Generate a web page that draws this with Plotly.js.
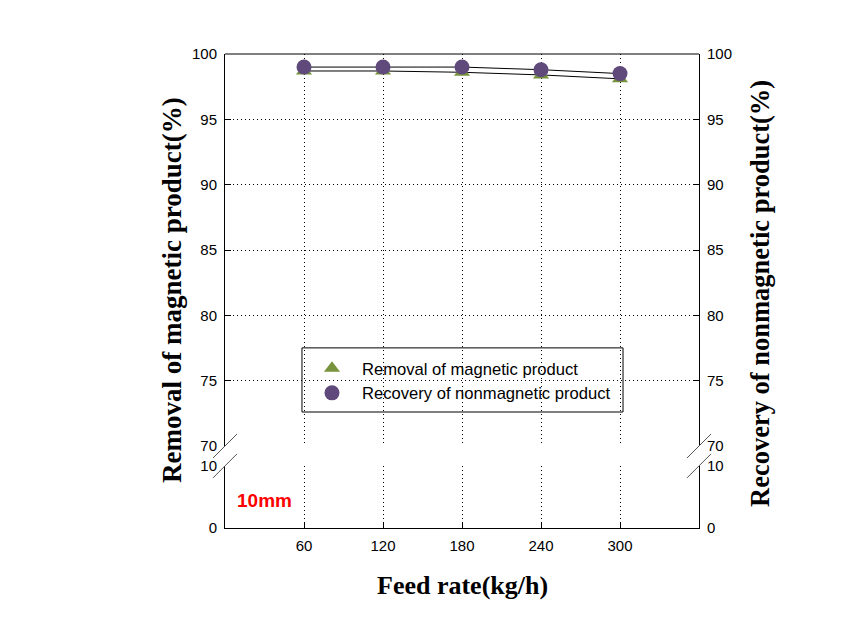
<!DOCTYPE html>
<html>
<head>
<meta charset="utf-8">
<script src="https://cdn.plot.ly/plotly-3.0.1.min.js"></script>
<style>html,body{margin:0;padding:0;background:#fff;}#chart{width:862px;height:637px;}</style>
</head>
<body>
<div id="chart"></div>
<script>
var feedRate = [60, 120, 180, 240, 300];
var removalMagnetic = [98.7, 98.7, 98.6, 98.4, 98.1];
var recoveryNonmagnetic = [99.0, 99.0, 99.0, 98.8, 98.5];
var upperTicks = [70, 75, 80, 85, 90, 95, 100];
var lowerTicks = [0, 10];
var xTicks = [60, 120, 180, 240, 300];
var seriesNames = ['Removal of magnetic product', 'Recovery of nonmagnetic product'];

var sans = 'Liberation Sans, Arial, sans-serif';
var serif = 'Liberation Serif, Times New Roman, serif';
var gridDash = '1px,3px';

var traces = [
  {x: feedRate, y: removalMagnetic, type: 'scatter', mode: 'lines', showlegend: false, hoverinfo: 'skip',
   xaxis: 'x', yaxis: 'y', line: {color: '#000000', width: 1}},
  {x: feedRate, y: recoveryNonmagnetic, type: 'scatter', mode: 'lines', showlegend: false, hoverinfo: 'skip',
   xaxis: 'x', yaxis: 'y', line: {color: '#000000', width: 1}},
  {x: feedRate, y: removalMagnetic, name: seriesNames[0], type: 'scatter', mode: 'markers',
   xaxis: 'x', yaxis: 'y', marker: {symbol: 'triangle-up', size: 14, color: '#77933C'}},
  {x: feedRate, y: recoveryNonmagnetic, name: seriesNames[1], type: 'scatter', mode: 'markers',
   xaxis: 'x', yaxis: 'y', marker: {symbol: 'circle', size: 15, color: '#604A7B'}},
  {x: [null], y: [null], xaxis: 'x', yaxis: 'y2', showlegend: false, hoverinfo: 'skip', mode: 'markers'},
  {x: [null], y: [null], xaxis: 'x', yaxis: 'y3', showlegend: false, hoverinfo: 'skip', mode: 'markers'},
  {x: [null], y: [null], xaxis: 'x', yaxis: 'y4', showlegend: false, hoverinfo: 'skip', mode: 'markers'}
];

var upperDom = [0.173, 1];
var lowerDom = [0, 0.131];

function yAxis(extra) {
  var base = {
    ticks: 'inside', ticklen: 6, tickcolor: '#000', tickwidth: 1,
    showline: true, linecolor: '#000', linewidth: 1,
    zeroline: false, tickmode: 'array',
    tickfont: {family: sans, size: 15, color: '#000'},
    ticklabelstandoff: 4, fixedrange: true
  };
  for (var k in extra) base[k] = extra[k];
  return base;
}

var dx = 12 / 474, dy = 12 / 474;
var yBreakA = upperDom[0], yBreakB = lowerDom[1];
function slash(xc, yc) {
  return {type: 'line', xref: 'paper', yref: 'paper', x0: xc - dx, y0: yc - dy, x1: xc + dx, y1: yc + dy,
          line: {color: '#555555', width: 1}};
}

var layout = {
  width: 862, height: 637,
  margin: {l: 225, r: 163, t: 54, b: 109},
  paper_bgcolor: '#ffffff', plot_bgcolor: 'rgba(0,0,0,0)',
  showlegend: true,
  legend: {x: 0.1624, y: 0.3735, xanchor: 'left', yanchor: 'top', bgcolor: 'rgba(0,0,0,0)', borderwidth: 0,
           itemwidth: 50, font: {family: sans, size: 16.6, color: '#000'}, traceorder: 'normal'},
  xaxis: {domain: [0, 1], anchor: 'y2', range: [0, 360], tickmode: 'array', tickvals: xTicks,
          ticks: 'inside', ticklen: 6, tickcolor: '#000', showline: true, linecolor: '#000', linewidth: 1,
          showgrid: true, gridcolor: '#000', gridwidth: 1, griddash: gridDash, zeroline: false,
          tickfont: {family: sans, size: 15, color: '#000'}, ticklabelstandoff: 4, fixedrange: true},
  yaxis: yAxis({domain: upperDom, anchor: 'x', range: [70, 100], tickvals: upperTicks,
                showgrid: true, gridcolor: '#000', gridwidth: 1, griddash: gridDash}),
  yaxis2: yAxis({domain: lowerDom, anchor: 'x', range: [0, 10], tickvals: lowerTicks,
                 showgrid: true, gridcolor: '#000', gridwidth: 1, griddash: gridDash}),
  yaxis3: yAxis({overlaying: 'y', side: 'right', anchor: 'x', range: [70, 100], tickvals: upperTicks, showgrid: false}),
  yaxis4: yAxis({overlaying: 'y2', side: 'right', anchor: 'x', range: [0, 10], tickvals: lowerTicks, showgrid: false}),
  shapes: [
    {type: 'line', xref: 'paper', yref: 'paper', x0: 0, x1: 1, y0: 1, y1: 1, line: {color: '#000', width: 1}},
    {type: 'rect', xref: 'paper', yref: 'paper', x0: 0.1624, x1: 0.8397, y0: 0.2447, y1: 0.38,
     line: {color: '#000', width: 1}, fillcolor: 'rgba(0,0,0,0)'},
    slash(0, yBreakA), slash(0, yBreakB), slash(1, yBreakA), slash(1, yBreakB)
  ],
  annotations: [
    {text: '<b>10mm</b>', xref: 'paper', yref: 'paper', x: 0.0823, y: 0.057, xanchor: 'center', yanchor: 'middle',
     showarrow: false, font: {family: sans, size: 19, color: '#FF0000'}},
    {text: '<b>Removal of magnetic product(%)</b>', xref: 'paper', yref: 'paper', x: -0.1118, y: 0.502,
     xanchor: 'center', yanchor: 'middle', textangle: -90, showarrow: false,
     font: {family: serif, size: 27, color: '#000'}},
    {text: '<b>Recovery of nonmagnetic product(%)</b>', xref: 'paper', yref: 'paper', x: 1.1287, y: 0.4937,
     xanchor: 'center', yanchor: 'middle', textangle: -90, showarrow: false,
     font: {family: serif, size: 26.5, color: '#000'}},
    {text: '<b>Feed rate(kg/h)</b>', xref: 'paper', yref: 'paper', x: 0.5, y: -0.1203,
     xanchor: 'center', yanchor: 'middle', showarrow: false,
     font: {family: serif, size: 26, color: '#000'}}
  ]
};

Plotly.newPlot('chart', traces, layout, {displayModeBar: false, staticPlot: true});
</script>
</body>
</html>
